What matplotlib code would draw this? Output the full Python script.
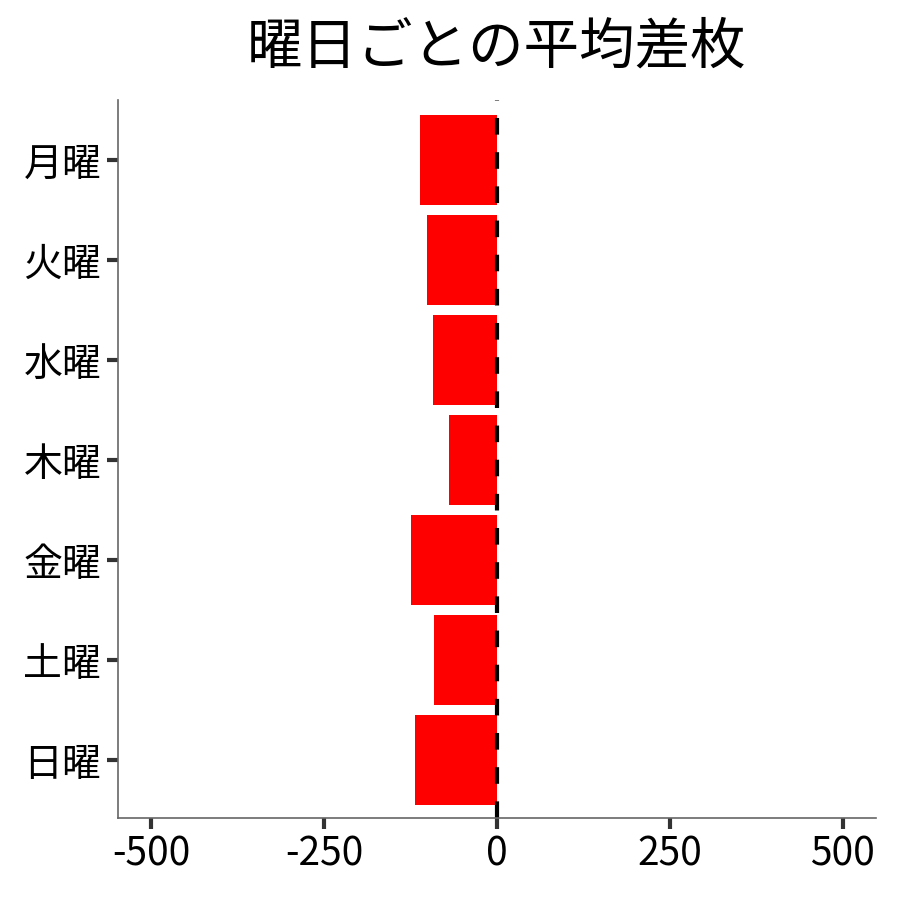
import matplotlib
matplotlib.use("Agg")
import matplotlib.pyplot as plt

plt.rcParams['font.family'] = ['Noto Sans CJK JP', 'DejaVu Sans']
plt.rcParams['axes.unicode_minus'] = False

# 曜日ごとの平均差枚
days = ['月曜', '火曜', '水曜', '木曜', '金曜', '土曜', '日曜']
diff = [-111, -101, -92, -69, -124, -91, -118]

fig = plt.figure(figsize=(9, 9), dpi=100)
ax = fig.add_axes([0.131, 0.091, 0.842, 0.798])

ypos = list(range(len(days)))
ax.barh(ypos, diff, height=0.9, color='#ff0000')
ax.axvline(0, color='black', linestyle='--', linewidth=3, dashes=(4, 4.2))

ax.set_yticks(ypos)
ax.set_yticklabels(days)
ax.set_ylim(len(days) - 0.42, -0.6)
ax.set_xlim(-548, 548)
ax.set_xticks([-500, -250, 0, 250, 500])

for s in ['top', 'right']:
    ax.spines[s].set_visible(False)
for s in ['left', 'bottom']:
    ax.spines[s].set_color('#666666')
    ax.spines[s].set_linewidth(1.2)
ax.tick_params(axis='both', length=8, width=3, color='#333333',
               labelsize=28, labelcolor='black', pad=4)

ax.set_title('曜日ごとの平均差枚', fontsize=40, pad=26)

fig.savefig('out.png', dpi=100)
